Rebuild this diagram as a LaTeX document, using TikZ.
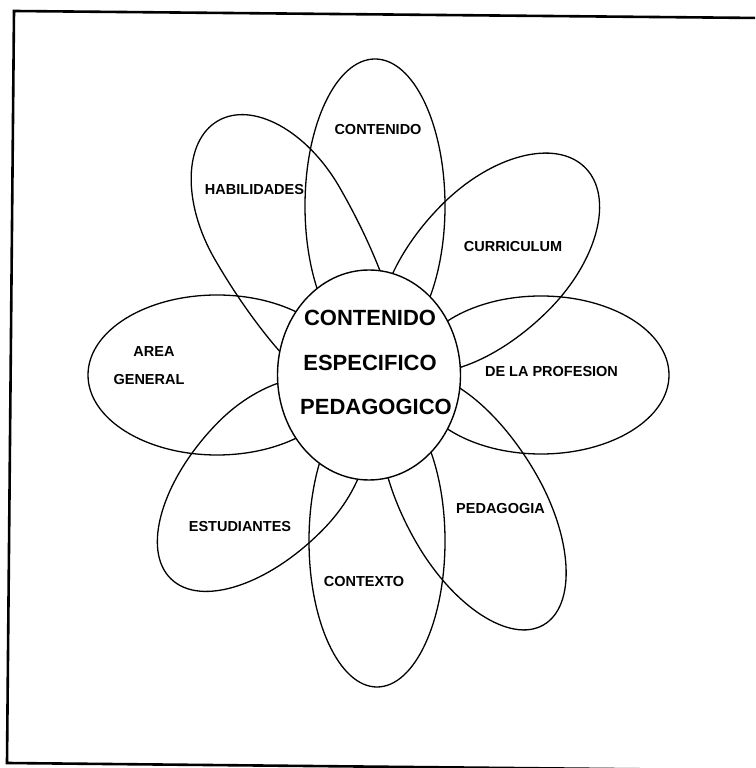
\documentclass[tikz,border=0pt]{standalone}
\usepackage{fontspec}
\setmainfont{Liberation Sans}
\usetikzlibrary{shapes.geometric}
\begin{document}
\begin{tikzpicture}[x=1pt,y=1pt,
  petal/.style={ellipse,draw,line width=1.3pt,inner sep=0pt,outer sep=0pt},
  petalline/.style={draw,line width=1.3pt},
  hub/.style={ellipse,draw,fill=white,line width=1.4pt,inner sep=0pt,outer sep=0pt,minimum width=183pt,minimum height=210pt},
  lab/.style={inner sep=0pt,font=\bfseries\fontsize{14.5}{16}\selectfont},
  hublab/.style={inner sep=0pt,font=\bfseries\fontsize{22}{26}\selectfont}]
\useasboundingbox (0,0) rectangle (755,768);
\clip (0,0) rectangle (755,768);
% frame (scanned, slightly rotated)
\coordinate (ftr) at (760,750);
\coordinate (ftl) at (14,757);
\coordinate (fbl) at (7,5);
\coordinate (fbr) at (760,-2.5);
\draw[line width=2.6pt] (ftr) -- (ftl) -- (fbl) -- (fbr);
% vertical and horizontal petals
\node[petal,minimum width=140pt,minimum height=294pt] (pcontenido) at (375,562) {};
\node[petal,minimum width=136pt,minimum height=292pt] (pcontexto) at (377,227) {};
\node[petal,minimum width=258pt,minimum height=160pt] (parea) at (217,393) {};
\node[petal,minimum width=256pt,minimum height=158pt] (pprofesion) at (541,393) {};
% diagonal petals (egg shaped: two half ellipses)
\draw[petalline,shift={(495.3,510.6)},rotate=45]
  (0,75) arc[start angle=90,end angle=-90,x radius=127pt,y radius=75pt]
         arc[start angle=270,end angle=90,x radius=145pt,y radius=75pt] -- cycle;
\draw[petalline,shift={(277,545)},rotate=120]
  (0,72) arc[start angle=90,end angle=-90,x radius=118pt,y radius=72pt]
         arc[start angle=270,end angle=90,x radius=220pt,y radius=72pt] -- cycle;
\draw[petalline,shift={(270.4,291.9)},rotate=226]
  (0,75) arc[start angle=90,end angle=-90,x radius=143pt,y radius=75pt]
         arc[start angle=270,end angle=90,x radius=117pt,y radius=75pt] -- cycle;
\draw[petalline,shift={(476,260)},rotate=-60]
  (0,69) arc[start angle=90,end angle=-90,x radius=135pt,y radius=69pt]
         arc[start angle=270,end angle=90,x radius=150pt,y radius=69pt] -- cycle;
% centre
\node[hub] (hub) at (369,393) {};
\node[hublab] (h1) at (370,450) {CONTENIDO};
\node[hublab] (h2) at (370,405.5) {ESPECIFICO};
\node[hublab] (h3) at (376,361) {PEDAGOGICO};
% petal labels
\node[lab] (tcontenido) at (378,638) {CONTENIDO};
\node[lab] (thabilidades) at (254.5,578) {HABILIDADES};
\node[lab] (tcurriculum) at (513,521) {CURRICULUM};
\node[lab] (tprofesion) at (551.5,396) {DE LA PROFESION};
\node[lab] (tarea) at (154,416) {AREA};
\node[lab] (tgeneral) at (149,388) {GENERAL};
\node[lab] (testudiantes) at (240,241) {ESTUDIANTES};
\node[lab] (tcontexto) at (364,186) {CONTEXTO};
\node[lab] (tpedagogia) at (500.5,259) {PEDAGOGIA};
\end{tikzpicture}
\end{document}
